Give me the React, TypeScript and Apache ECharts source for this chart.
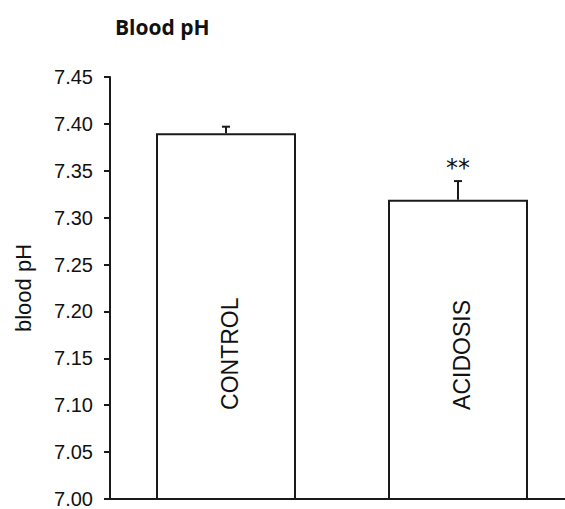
import React, { useEffect, useRef } from "react";
import * as echarts from "echarts";

const categories = ["CONTROL", "ACIDOSIS"];
const means = [7.39, 7.319];
const errors = [0.007, 0.02];
const significance = ["", "**"];
const yTicks = { min: 7.0, max: 7.45, interval: 0.05 };
const chartTitle = "Blood pH";
const yAxisName = "blood pH";

// layout constant: the value level where the rotated category labels start
const labelBaseValue = 7.095;

export default function App() {
  const ref = useRef<HTMLDivElement>(null);

  useEffect(() => {
    document.body.style.margin = "0";
    document.body.style.overflow = "hidden";
    if (!ref.current) return;
    const chart = echarts.init(ref.current, null, { renderer: "svg" });
    const ink = "#1a1a1a";

    const errorData = categories.map((_, i) => [i, means[i], errors[i]]);

    chart.setOption({
      animation: false,
      backgroundColor: "#ffffff",
      title: {
        text: chartTitle,
        left: 110,
        top: 11,
        textStyle: {
          fontFamily: "Open Sans",
          fontWeight: "bold",
          fontSize: 21,
          color: "#111",
        },
      },
      grid: { left: 110, top: 77, bottom: 7, right: 0, containLabel: false },
      xAxis: {
        type: "category",
        data: categories,
        axisLine: { show: true, lineStyle: { color: ink, width: 2 } },
        axisTick: { show: false },
        axisLabel: { show: false },
        splitLine: { show: false },
      },
      yAxis: {
        type: "value",
        min: yTicks.min,
        max: yTicks.max,
        interval: yTicks.interval,
        name: yAxisName,
        nameLocation: "middle",
        nameGap: 76,
        nameTextStyle: {
          fontFamily: "Liberation Sans",
          fontSize: 22,
          color: "#111",
        },
        axisLine: { show: true, lineStyle: { color: ink, width: 2 } },
        axisTick: { show: true, length: 6, lineStyle: { color: ink, width: 2 } },
        axisLabel: {
          margin: 17,
          fontFamily: "Liberation Sans",
          fontSize: 20,
          color: "#111",
          formatter: (v: number) => v.toFixed(2),
        },
        splitLine: { show: false },
      },
      series: [
        {
          type: "bar",
          data: means,
          barWidth: 140,
          itemStyle: { color: "#ffffff", borderColor: ink, borderWidth: 2 },
          z: 2,
        },
        {
          type: "custom",
          data: errorData,
          z: 5,
          renderItem: (params: any, api: any) => {
            const idx = api.value(0);
            const mean = api.value(1);
            const se = api.value(2);
            const base = api.coord([idx, mean]);
            const top = api.coord([idx, mean + se]);
            const lbl = api.coord([idx, labelBaseValue]);
            const cap = 4;
            const children: any[] = [
              {
                type: "line",
                shape: { x1: base[0], y1: base[1], x2: top[0], y2: top[1] },
                style: { stroke: ink, lineWidth: 2 },
              },
              {
                type: "line",
                shape: { x1: top[0] - cap, y1: top[1], x2: top[0] + cap, y2: top[1] },
                style: { stroke: ink, lineWidth: 2 },
              },
              {
                type: "text",
                x: lbl[0] + 4,
                y: lbl[1],
                rotation: Math.PI / 2,
                style: {
                  text: categories[params.dataIndex],
                  fontFamily: "Liberation Sans",
                  fontSize: 23,
                  fill: "#111",
                  align: "left",
                  verticalAlign: "middle",
                },
              },
            ];
            const sig = significance[params.dataIndex];
            if (sig) {
              children.push({
                type: "text",
                x: top[0],
                y: top[1] - 13,
                style: {
                  text: sig,
                  fontFamily: "DejaVu Sans",
                  fontSize: 24,
                  fill: "#111",
                  align: "center",
                  verticalAlign: "middle",
                },
              });
            }
            return { type: "group", children };
          },
        },
      ],
    });

    return () => {
      chart.dispose();
    };
  }, []);

  return (
    <div style={{ width: 565, height: 509, overflow: "hidden", position: "relative" }}>
      <div ref={ref} style={{ width: 574, height: 509 }} />
    </div>
  );
}
